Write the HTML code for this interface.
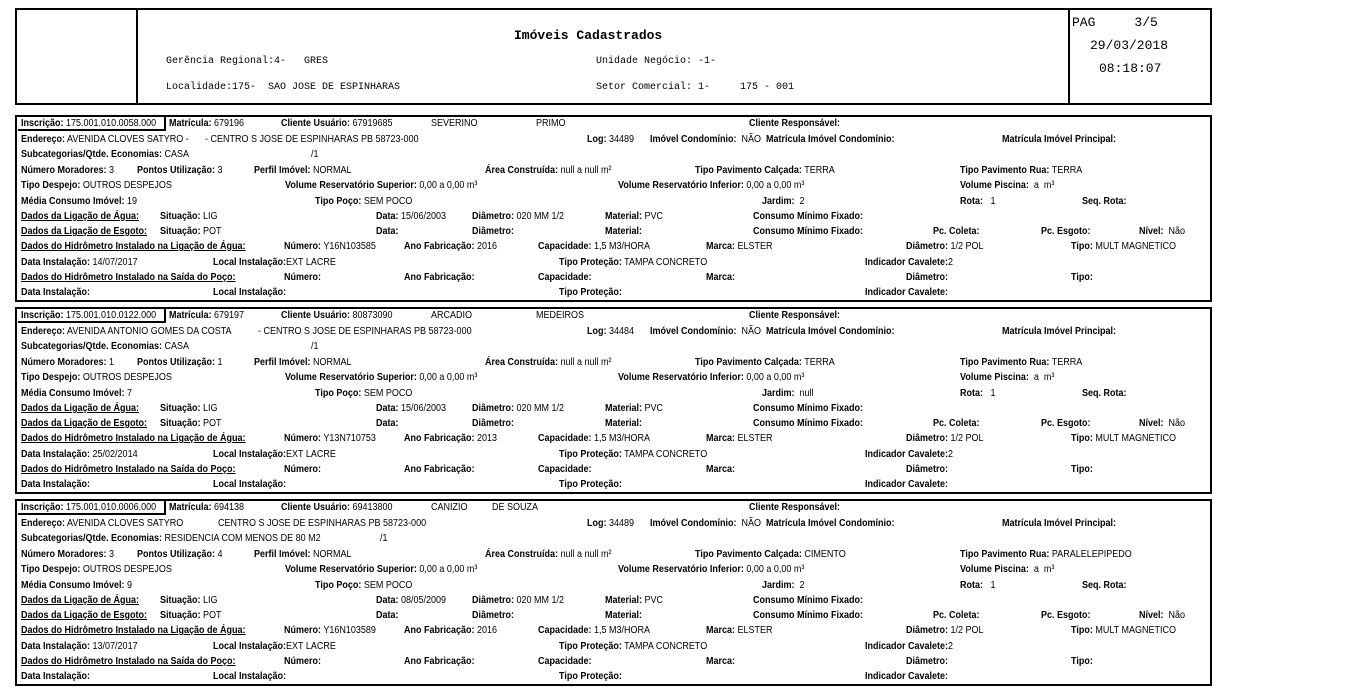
<!DOCTYPE html>
<html><head><meta charset="utf-8"><style>
body{margin:0;width:1366px;height:695px;background:#fff;position:relative;overflow:hidden;font-family:"Liberation Sans",Arial,sans-serif;color:#000}
.box{position:absolute;border:2px solid #000;box-sizing:border-box}
.t{position:absolute;white-space:nowrap;font-size:10px;line-height:11px;transform:scaleX(.9);transform-origin:left center;margin-left:-17px}
.t b{font-weight:bold}
.u{text-decoration:underline;font-weight:bold}
.m{position:absolute;white-space:nowrap;font-family:"Liberation Mono",monospace;font-size:10px;line-height:12px}
.rec{position:absolute;left:15px;width:1197px;height:187px;border:2px solid #000;box-sizing:border-box}
.ins{position:absolute;left:1px;top:0;width:148px;height:14px;border:2px solid #000;border-top:0;border-left:0;box-sizing:border-box}
</style></head><body>
<div class="box" style="left:15px;top:8px;width:1197px;height:97px"></div>
<div style="position:absolute;left:136px;top:8px;width:2px;height:97px;background:#000"></div>
<div style="position:absolute;left:1068px;top:8px;width:2px;height:97px;background:#000"></div>
<div class="m" style="left:514px;top:30px;font-size:13px;font-weight:bold">Imóveis Cadastrados</div>
<div class="m" style="left:166px;top:56px">Gerência Regional:4-&nbsp;&nbsp;&nbsp;GRES</div>
<div class="m" style="left:166px;top:82px">Localidade:175-&nbsp;&nbsp;SAO JOSE DE ESPINHARAS</div>
<div class="m" style="left:596px;top:56px">Unidade Negócio: -1-</div>
<div class="m" style="left:596px;top:82px">Setor Comercial: 1-&nbsp;&nbsp;&nbsp;&nbsp;&nbsp;175 - 001</div>
<div class="m" style="left:1072px;top:15px;font-size:13px;line-height:15px">PAG&nbsp;&nbsp;&nbsp;&nbsp;&nbsp;3/5</div>
<div class="m" style="left:1090px;top:38px;font-size:13px;line-height:15px">29/03/2018</div>
<div class="m" style="left:1099px;top:61px;font-size:13px;line-height:15px">08:18:07</div>

<!-- record 1 -->
<div class="rec" style="top:115px">
<div class="ins"></div>
<div class="t" style="left:21px;top:1px"><b>Inscrição:</b> 175.001.010.0058.000</div>
<div class="t" style="left:169px;top:1px"><b>Matrícula:</b> 679196</div>
<div class="t" style="left:281px;top:1px"><b>Cliente Usuário:</b> 67919685</div>
<div class="t" style="left:431px;top:1px">SEVERINO</div>
<div class="t" style="left:536px;top:1px">PRIMO</div>
<div class="t" style="left:749px;top:1px"><b>Cliente Responsável:</b></div>
<div class="t" style="left:21px;top:17px"><b>Endereço:</b> AVENIDA CLOVES SATYRO -</div>
<div class="t" style="left:205px;top:17px">- CENTRO S JOSE DE ESPINHARAS PB 58723-000</div>
<div class="t" style="left:587px;top:17px"><b>Log:</b> 34489</div>
<div class="t" style="left:650px;top:17px"><b>Imóvel Condomínio:</b>&nbsp; NÃO&nbsp; <b>Matrícula Imóvel Condomínio:</b></div>
<div class="t" style="left:1002px;top:17px"><b>Matrícula Imóvel Principal:</b></div>
<div class="t" style="left:21px;top:32px"><b>Subcategorias/Qtde. Economias:</b> CASA</div>
<div class="t" style="left:311px;top:32px">/1</div>
<div class="t" style="left:21px;top:48px"><b>Número Moradores:</b> 3</div>
<div class="t" style="left:137px;top:48px"><b>Pontos Utilização:</b> 3</div>
<div class="t" style="left:254px;top:48px"><b>Perfil Imóvel:</b> NORMAL</div>
<div class="t" style="left:485px;top:48px"><b>Área Construída:</b> null a null m²</div>
<div class="t" style="left:695px;top:48px"><b>Tipo Pavimento Calçada:</b> TERRA</div>
<div class="t" style="left:960px;top:48px"><b>Tipo Pavimento Rua:</b> TERRA</div>
<div class="t" style="left:21px;top:63px"><b>Tipo Despejo:</b> OUTROS DESPEJOS</div>
<div class="t" style="left:285px;top:63px"><b>Volume Reservatório Superior:</b> 0,00 a 0,00 m³</div>
<div class="t" style="left:618px;top:63px"><b>Volume Reservatório Inferior:</b> 0,00 a 0,00 m³</div>
<div class="t" style="left:960px;top:63px"><b>Volume Piscina:</b>&nbsp; a&nbsp; m³</div>
<div class="t" style="left:21px;top:79px"><b>Média Consumo Imóvel:</b> 19</div>
<div class="t" style="left:315px;top:79px"><b>Tipo Poço:</b> SEM POCO</div>
<div class="t" style="left:762px;top:79px"><b>Jardim:</b>&nbsp; 2</div>
<div class="t" style="left:960px;top:79px"><b>Rota:</b>&nbsp;&nbsp; 1</div>
<div class="t" style="left:1082px;top:79px"><b>Seq. Rota:</b></div>
<div class="t" style="left:21px;top:94px"><span class="u">Dados da Ligação de Água:</span></div>
<div class="t" style="left:160px;top:94px"><b>Situação:</b> LIG</div>
<div class="t" style="left:376px;top:94px"><b>Data:</b> 15/06/2003</div>
<div class="t" style="left:472px;top:94px"><b>Diâmetro:</b> 020 MM 1/2</div>
<div class="t" style="left:605px;top:94px"><b>Material:</b> PVC</div>
<div class="t" style="left:753px;top:94px"><b>Consumo Mínimo Fixado:</b></div>
<div class="t" style="left:21px;top:109px"><span class="u">Dados da Ligação de Esgoto:</span></div>
<div class="t" style="left:160px;top:109px"><b>Situação:</b> POT</div>
<div class="t" style="left:376px;top:109px"><b>Data:</b></div>
<div class="t" style="left:472px;top:109px"><b>Diâmetro:</b></div>
<div class="t" style="left:605px;top:109px"><b>Material:</b></div>
<div class="t" style="left:753px;top:109px"><b>Consumo Mínimo Fixado:</b></div>
<div class="t" style="left:933px;top:109px"><b>Pc. Coleta:</b></div>
<div class="t" style="left:1041px;top:109px"><b>Pc. Esgoto:</b></div>
<div class="t" style="left:1139px;top:109px"><b>Nível:</b>&nbsp; Não</div>
<div class="t" style="left:21px;top:124px"><span class="u">Dados do Hidrômetro Instalado na Ligação de Água:</span></div>
<div class="t" style="left:284px;top:124px"><b>Número:</b> Y16N103585</div>
<div class="t" style="left:404px;top:124px"><b>Ano Fabricação:</b> 2016</div>
<div class="t" style="left:538px;top:124px"><b>Capacidade:</b> 1,5 M3/HORA</div>
<div class="t" style="left:706px;top:124px"><b>Marca:</b> ELSTER</div>
<div class="t" style="left:906px;top:124px"><b>Diâmetro:</b> 1/2 POL</div>
<div class="t" style="left:1071px;top:124px"><b>Tipo:</b> MULT MAGNETICO</div>
<div class="t" style="left:21px;top:140px"><b>Data Instalação:</b> 14/07/2017</div>
<div class="t" style="left:213px;top:140px"><b>Local Instalação:</b>EXT LACRE</div>
<div class="t" style="left:559px;top:140px"><b>Tipo Proteção:</b> TAMPA CONCRETO</div>
<div class="t" style="left:865px;top:140px"><b>Indicador Cavalete:</b>2</div>
<div class="t" style="left:21px;top:155px"><span class="u">Dados do Hidrômetro Instalado na Saída do Poço:</span></div>
<div class="t" style="left:284px;top:155px"><b>Número:</b></div>
<div class="t" style="left:404px;top:155px"><b>Ano Fabricação:</b></div>
<div class="t" style="left:538px;top:155px"><b>Capacidade:</b></div>
<div class="t" style="left:706px;top:155px"><b>Marca:</b></div>
<div class="t" style="left:906px;top:155px"><b>Diâmetro:</b></div>
<div class="t" style="left:1071px;top:155px"><b>Tipo:</b></div>
<div class="t" style="left:21px;top:170px"><b>Data Instalação:</b></div>
<div class="t" style="left:213px;top:170px"><b>Local Instalação:</b></div>
<div class="t" style="left:559px;top:170px"><b>Tipo Proteção:</b></div>
<div class="t" style="left:865px;top:170px"><b>Indicador Cavalete:</b></div>
</div>

<!-- record 2 -->
<div class="rec" style="top:307px">
<div class="ins"></div>
<div class="t" style="left:21px;top:1px"><b>Inscrição:</b> 175.001.010.0122.000</div>
<div class="t" style="left:169px;top:1px"><b>Matrícula:</b> 679197</div>
<div class="t" style="left:281px;top:1px"><b>Cliente Usuário:</b> 80873090</div>
<div class="t" style="left:431px;top:1px">ARCADIO</div>
<div class="t" style="left:536px;top:1px">MEDEIROS</div>
<div class="t" style="left:749px;top:1px"><b>Cliente Responsável:</b></div>
<div class="t" style="left:21px;top:17px"><b>Endereço:</b> AVENIDA ANTONIO GOMES DA COSTA</div>
<div class="t" style="left:258px;top:17px">- CENTRO S JOSE DE ESPINHARAS PB 58723-000</div>
<div class="t" style="left:587px;top:17px"><b>Log:</b> 34484</div>
<div class="t" style="left:650px;top:17px"><b>Imóvel Condomínio:</b>&nbsp; NÃO&nbsp; <b>Matrícula Imóvel Condomínio:</b></div>
<div class="t" style="left:1002px;top:17px"><b>Matrícula Imóvel Principal:</b></div>
<div class="t" style="left:21px;top:32px"><b>Subcategorias/Qtde. Economias:</b> CASA</div>
<div class="t" style="left:311px;top:32px">/1</div>
<div class="t" style="left:21px;top:48px"><b>Número Moradores:</b> 1</div>
<div class="t" style="left:137px;top:48px"><b>Pontos Utilização:</b> 1</div>
<div class="t" style="left:254px;top:48px"><b>Perfil Imóvel:</b> NORMAL</div>
<div class="t" style="left:485px;top:48px"><b>Área Construída:</b> null a null m²</div>
<div class="t" style="left:695px;top:48px"><b>Tipo Pavimento Calçada:</b> TERRA</div>
<div class="t" style="left:960px;top:48px"><b>Tipo Pavimento Rua:</b> TERRA</div>
<div class="t" style="left:21px;top:63px"><b>Tipo Despejo:</b> OUTROS DESPEJOS</div>
<div class="t" style="left:285px;top:63px"><b>Volume Reservatório Superior:</b> 0,00 a 0,00 m³</div>
<div class="t" style="left:618px;top:63px"><b>Volume Reservatório Inferior:</b> 0,00 a 0,00 m³</div>
<div class="t" style="left:960px;top:63px"><b>Volume Piscina:</b>&nbsp; a&nbsp; m³</div>
<div class="t" style="left:21px;top:79px"><b>Média Consumo Imóvel:</b> 7</div>
<div class="t" style="left:315px;top:79px"><b>Tipo Poço:</b> SEM POCO</div>
<div class="t" style="left:762px;top:79px"><b>Jardim:</b>&nbsp; null</div>
<div class="t" style="left:960px;top:79px"><b>Rota:</b>&nbsp;&nbsp; 1</div>
<div class="t" style="left:1082px;top:79px"><b>Seq. Rota:</b></div>
<div class="t" style="left:21px;top:94px"><span class="u">Dados da Ligação de Água:</span></div>
<div class="t" style="left:160px;top:94px"><b>Situação:</b> LIG</div>
<div class="t" style="left:376px;top:94px"><b>Data:</b> 15/06/2003</div>
<div class="t" style="left:472px;top:94px"><b>Diâmetro:</b> 020 MM 1/2</div>
<div class="t" style="left:605px;top:94px"><b>Material:</b> PVC</div>
<div class="t" style="left:753px;top:94px"><b>Consumo Mínimo Fixado:</b></div>
<div class="t" style="left:21px;top:109px"><span class="u">Dados da Ligação de Esgoto:</span></div>
<div class="t" style="left:160px;top:109px"><b>Situação:</b> POT</div>
<div class="t" style="left:376px;top:109px"><b>Data:</b></div>
<div class="t" style="left:472px;top:109px"><b>Diâmetro:</b></div>
<div class="t" style="left:605px;top:109px"><b>Material:</b></div>
<div class="t" style="left:753px;top:109px"><b>Consumo Mínimo Fixado:</b></div>
<div class="t" style="left:933px;top:109px"><b>Pc. Coleta:</b></div>
<div class="t" style="left:1041px;top:109px"><b>Pc. Esgoto:</b></div>
<div class="t" style="left:1139px;top:109px"><b>Nível:</b>&nbsp; Não</div>
<div class="t" style="left:21px;top:124px"><span class="u">Dados do Hidrômetro Instalado na Ligação de Água:</span></div>
<div class="t" style="left:284px;top:124px"><b>Número:</b> Y13N710753</div>
<div class="t" style="left:404px;top:124px"><b>Ano Fabricação:</b> 2013</div>
<div class="t" style="left:538px;top:124px"><b>Capacidade:</b> 1,5 M3/HORA</div>
<div class="t" style="left:706px;top:124px"><b>Marca:</b> ELSTER</div>
<div class="t" style="left:906px;top:124px"><b>Diâmetro:</b> 1/2 POL</div>
<div class="t" style="left:1071px;top:124px"><b>Tipo:</b> MULT MAGNETICO</div>
<div class="t" style="left:21px;top:140px"><b>Data Instalação:</b> 25/02/2014</div>
<div class="t" style="left:213px;top:140px"><b>Local Instalação:</b>EXT LACRE</div>
<div class="t" style="left:559px;top:140px"><b>Tipo Proteção:</b> TAMPA CONCRETO</div>
<div class="t" style="left:865px;top:140px"><b>Indicador Cavalete:</b>2</div>
<div class="t" style="left:21px;top:155px"><span class="u">Dados do Hidrômetro Instalado na Saída do Poço:</span></div>
<div class="t" style="left:284px;top:155px"><b>Número:</b></div>
<div class="t" style="left:404px;top:155px"><b>Ano Fabricação:</b></div>
<div class="t" style="left:538px;top:155px"><b>Capacidade:</b></div>
<div class="t" style="left:706px;top:155px"><b>Marca:</b></div>
<div class="t" style="left:906px;top:155px"><b>Diâmetro:</b></div>
<div class="t" style="left:1071px;top:155px"><b>Tipo:</b></div>
<div class="t" style="left:21px;top:170px"><b>Data Instalação:</b></div>
<div class="t" style="left:213px;top:170px"><b>Local Instalação:</b></div>
<div class="t" style="left:559px;top:170px"><b>Tipo Proteção:</b></div>
<div class="t" style="left:865px;top:170px"><b>Indicador Cavalete:</b></div>
</div>

<!-- record 3 -->
<div class="rec" style="top:499px">
<div class="ins"></div>
<div class="t" style="left:21px;top:1px"><b>Inscrição:</b> 175.001.010.0006.000</div>
<div class="t" style="left:169px;top:1px"><b>Matrícula:</b> 694138</div>
<div class="t" style="left:281px;top:1px"><b>Cliente Usuário:</b> 69413800</div>
<div class="t" style="left:431px;top:1px">CANIZIO</div>
<div class="t" style="left:492px;top:1px">DE SOUZA</div>
<div class="t" style="left:749px;top:1px"><b>Cliente Responsável:</b></div>
<div class="t" style="left:21px;top:17px"><b>Endereço:</b> AVENIDA CLOVES SATYRO</div>
<div class="t" style="left:218px;top:17px">CENTRO S JOSE DE ESPINHARAS PB 58723-000</div>
<div class="t" style="left:587px;top:17px"><b>Log:</b> 34489</div>
<div class="t" style="left:650px;top:17px"><b>Imóvel Condomínio:</b>&nbsp; NÃO&nbsp; <b>Matrícula Imóvel Condomínio:</b></div>
<div class="t" style="left:1002px;top:17px"><b>Matrícula Imóvel Principal:</b></div>
<div class="t" style="left:21px;top:32px"><b>Subcategorias/Qtde. Economias:</b> RESIDENCIA COM MENOS DE 80 M2</div>
<div class="t" style="left:380px;top:32px">/1</div>
<div class="t" style="left:21px;top:48px"><b>Número Moradores:</b> 3</div>
<div class="t" style="left:137px;top:48px"><b>Pontos Utilização:</b> 4</div>
<div class="t" style="left:254px;top:48px"><b>Perfil Imóvel:</b> NORMAL</div>
<div class="t" style="left:485px;top:48px"><b>Área Construída:</b> null a null m²</div>
<div class="t" style="left:695px;top:48px"><b>Tipo Pavimento Calçada:</b> CIMENTO</div>
<div class="t" style="left:960px;top:48px"><b>Tipo Pavimento Rua:</b> PARALELEPIPEDO</div>
<div class="t" style="left:21px;top:63px"><b>Tipo Despejo:</b> OUTROS DESPEJOS</div>
<div class="t" style="left:285px;top:63px"><b>Volume Reservatório Superior:</b> 0,00 a 0,00 m³</div>
<div class="t" style="left:618px;top:63px"><b>Volume Reservatório Inferior:</b> 0,00 a 0,00 m³</div>
<div class="t" style="left:960px;top:63px"><b>Volume Piscina:</b>&nbsp; a&nbsp; m³</div>
<div class="t" style="left:21px;top:79px"><b>Média Consumo Imóvel:</b> 9</div>
<div class="t" style="left:315px;top:79px"><b>Tipo Poço:</b> SEM POCO</div>
<div class="t" style="left:762px;top:79px"><b>Jardim:</b>&nbsp; 2</div>
<div class="t" style="left:960px;top:79px"><b>Rota:</b>&nbsp;&nbsp; 1</div>
<div class="t" style="left:1082px;top:79px"><b>Seq. Rota:</b></div>
<div class="t" style="left:21px;top:94px"><span class="u">Dados da Ligação de Água:</span></div>
<div class="t" style="left:160px;top:94px"><b>Situação:</b> LIG</div>
<div class="t" style="left:376px;top:94px"><b>Data:</b> 08/05/2009</div>
<div class="t" style="left:472px;top:94px"><b>Diâmetro:</b> 020 MM 1/2</div>
<div class="t" style="left:605px;top:94px"><b>Material:</b> PVC</div>
<div class="t" style="left:753px;top:94px"><b>Consumo Mínimo Fixado:</b></div>
<div class="t" style="left:21px;top:109px"><span class="u">Dados da Ligação de Esgoto:</span></div>
<div class="t" style="left:160px;top:109px"><b>Situação:</b> POT</div>
<div class="t" style="left:376px;top:109px"><b>Data:</b></div>
<div class="t" style="left:472px;top:109px"><b>Diâmetro:</b></div>
<div class="t" style="left:605px;top:109px"><b>Material:</b></div>
<div class="t" style="left:753px;top:109px"><b>Consumo Mínimo Fixado:</b></div>
<div class="t" style="left:933px;top:109px"><b>Pc. Coleta:</b></div>
<div class="t" style="left:1041px;top:109px"><b>Pc. Esgoto:</b></div>
<div class="t" style="left:1139px;top:109px"><b>Nível:</b>&nbsp; Não</div>
<div class="t" style="left:21px;top:124px"><span class="u">Dados do Hidrômetro Instalado na Ligação de Água:</span></div>
<div class="t" style="left:284px;top:124px"><b>Número:</b> Y16N103589</div>
<div class="t" style="left:404px;top:124px"><b>Ano Fabricação:</b> 2016</div>
<div class="t" style="left:538px;top:124px"><b>Capacidade:</b> 1,5 M3/HORA</div>
<div class="t" style="left:706px;top:124px"><b>Marca:</b> ELSTER</div>
<div class="t" style="left:906px;top:124px"><b>Diâmetro:</b> 1/2 POL</div>
<div class="t" style="left:1071px;top:124px"><b>Tipo:</b> MULT MAGNETICO</div>
<div class="t" style="left:21px;top:140px"><b>Data Instalação:</b> 13/07/2017</div>
<div class="t" style="left:213px;top:140px"><b>Local Instalação:</b>EXT LACRE</div>
<div class="t" style="left:559px;top:140px"><b>Tipo Proteção:</b> TAMPA CONCRETO</div>
<div class="t" style="left:865px;top:140px"><b>Indicador Cavalete:</b>2</div>
<div class="t" style="left:21px;top:155px"><span class="u">Dados do Hidrômetro Instalado na Saída do Poço:</span></div>
<div class="t" style="left:284px;top:155px"><b>Número:</b></div>
<div class="t" style="left:404px;top:155px"><b>Ano Fabricação:</b></div>
<div class="t" style="left:538px;top:155px"><b>Capacidade:</b></div>
<div class="t" style="left:706px;top:155px"><b>Marca:</b></div>
<div class="t" style="left:906px;top:155px"><b>Diâmetro:</b></div>
<div class="t" style="left:1071px;top:155px"><b>Tipo:</b></div>
<div class="t" style="left:21px;top:170px"><b>Data Instalação:</b></div>
<div class="t" style="left:213px;top:170px"><b>Local Instalação:</b></div>
<div class="t" style="left:559px;top:170px"><b>Tipo Proteção:</b></div>
<div class="t" style="left:865px;top:170px"><b>Indicador Cavalete:</b></div>
</div>
</body></html>
